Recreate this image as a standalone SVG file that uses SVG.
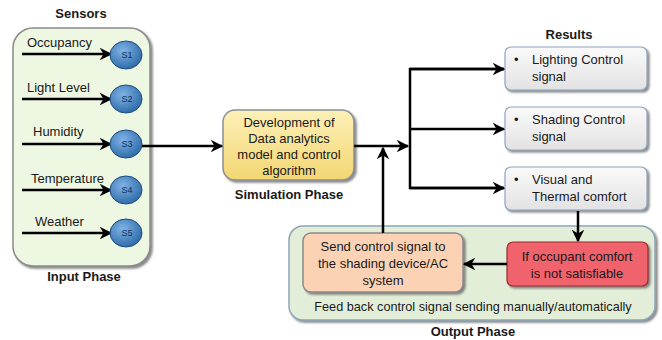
<svg xmlns="http://www.w3.org/2000/svg" width="662" height="340" viewBox="0 0 662 340">
<style>
text{font-family:"Liberation Sans",Arial,sans-serif;fill:#1a1a1a}
.lbl{font-size:13px}
.b{font-weight:bold;font-size:13px;text-anchor:middle}
.c{text-anchor:middle;font-size:13px}
.s{font-size:9px;text-anchor:middle;fill:#10305a}
.ln{stroke:#000;stroke-width:2.5;fill:none}
.arr{marker-end:url(#ah)}
</style>
<defs>
<marker id="ah" viewBox="0 0 10 10" refX="9" refY="5" markerWidth="5" markerHeight="5" orient="auto" markerUnits="strokeWidth">
<path d="M0,0 L10,5 L0,10 L3,5 Z" fill="#000"/>
</marker>
<radialGradient id="gs" cx="40%" cy="35%" r="70%">
<stop offset="0" stop-color="#7fb3e6"/><stop offset="1" stop-color="#2b68a6"/>
</radialGradient>
<linearGradient id="gy" x1="0" y1="0" x2="0" y2="1">
<stop offset="0" stop-color="#fdf0b8"/><stop offset="1" stop-color="#f3d672"/>
</linearGradient>
<linearGradient id="gg" x1="0" y1="0" x2="0" y2="1">
<stop offset="0" stop-color="#fafafa"/><stop offset="1" stop-color="#e2e2e2"/>
</linearGradient>
<filter id="sh" x="-10%" y="-10%" width="125%" height="130%">
<feDropShadow dx="2" dy="2" stdDeviation="1.2" flood-color="#555" flood-opacity="0.7"/>
</filter>
</defs>

<g id="input-phase">
<text class="b" x="81" y="18">Sensors</text>
<rect x="13" y="28" width="137" height="238" rx="20" fill="#eef7e2" stroke="#8a8a8a" stroke-width="1.5" filter="url(#sh)"/>
<text class="b" x="84" y="281">Input Phase</text>
</g>

<g id="sensor-s1">
<text class="lbl" x="27" y="47">Occupancy</text>
<line class="ln arr" x1="22" y1="54" x2="111" y2="54"/>
<ellipse cx="126" cy="55" rx="16" ry="14" fill="url(#gs)" stroke="#1f4e7e" stroke-width="1"/>
<text class="s" x="127" y="58">S1</text>
</g>
<g id="sensor-s2">
<text class="lbl" x="27" y="92">Light Level</text>
<line class="ln arr" x1="22" y1="99" x2="111" y2="99"/>
<ellipse cx="126" cy="99" rx="16" ry="14" fill="url(#gs)" stroke="#1f4e7e" stroke-width="1"/>
<text class="s" x="127" y="102">S2</text>
</g>
<g id="sensor-s3">
<text class="lbl" x="33" y="136">Humidity</text>
<line class="ln arr" x1="22" y1="144" x2="111" y2="144"/>
<ellipse cx="126" cy="144" rx="16" ry="14" fill="url(#gs)" stroke="#1f4e7e" stroke-width="1"/>
<text class="s" x="127" y="147">S3</text>
</g>
<g id="sensor-s4">
<text class="lbl" x="31" y="183">Temperature</text>
<line class="ln arr" x1="22" y1="190" x2="111" y2="190"/>
<ellipse cx="126" cy="190" rx="16" ry="14" fill="url(#gs)" stroke="#1f4e7e" stroke-width="1"/>
<text class="s" x="127" y="193">S4</text>
</g>
<g id="sensor-s5">
<text class="lbl" x="35" y="226">Weather</text>
<line class="ln arr" x1="22" y1="233" x2="111" y2="233"/>
<ellipse cx="126" cy="233" rx="16" ry="14" fill="url(#gs)" stroke="#1f4e7e" stroke-width="1"/>
<text class="s" x="127" y="236">S5</text>
</g>

<g id="simulation">
<rect x="223" y="110" width="131" height="70" rx="12" fill="url(#gy)" stroke="#8a8f99" stroke-width="1.5" filter="url(#sh)"/>
<text class="c" x="289" y="127">Development of</text>
<text class="c" x="289" y="143">Data analytics</text>
<text class="c" x="289" y="159">model and control</text>
<text class="c" x="289" y="175">algorithm</text>
<text class="b" x="289" y="199">Simulation Phase</text>
</g>

<g id="results">
<text class="b" x="569" y="39">Results</text>
</g>
<g id="result-lighting">
<rect x="505" y="47" width="142" height="43" rx="6" fill="url(#gg)" stroke="#8fa6c0" stroke-width="1.2" filter="url(#sh)"/>
<text class="lbl" x="514" y="64">•</text>
<text class="lbl" x="532" y="64">Lighting Control</text>
<text class="lbl" x="532" y="81">signal</text>
</g>
<g id="result-shading">
<rect x="505" y="107" width="142" height="43" rx="6" fill="url(#gg)" stroke="#8fa6c0" stroke-width="1.2" filter="url(#sh)"/>
<text class="lbl" x="514" y="124">•</text>
<text class="lbl" x="532" y="124">Shading Control</text>
<text class="lbl" x="532" y="141">signal</text>
</g>
<g id="result-comfort">
<rect x="505" y="167" width="142" height="43" rx="6" fill="url(#gg)" stroke="#8fa6c0" stroke-width="1.2" filter="url(#sh)"/>
<text class="lbl" x="514" y="184">•</text>
<text class="lbl" x="532" y="184">Visual and</text>
<text class="lbl" x="532" y="201">Thermal comfort</text>
</g>

<g id="output-phase">
<rect x="289" y="226" width="366" height="94" rx="14" fill="#e3eed8" stroke="#8fa6b8" stroke-width="1.5" filter="url(#sh)"/>
<text x="473" y="311" style="font-size:12.7px;text-anchor:middle">Feed back control signal sending manually/automatically</text>
<text class="b" x="473" y="336">Output Phase</text>
</g>
<g id="send-signal">
<rect x="303" y="233" width="160" height="59" rx="8" fill="#fbd3b4" stroke="#8a8a8a" stroke-width="1.5" filter="url(#sh)"/>
<text class="c" x="383" y="251">Send control signal to</text>
<text class="c" x="383" y="268">the shading device/AC</text>
<text class="c" x="383" y="285">system</text>
</g>
<g id="not-satisfiable">
<rect x="507" y="242" width="141" height="44" rx="6" fill="#f0626c" stroke="#9b2a30" stroke-width="1.2" filter="url(#sh)"/>
<text class="c" x="577" y="261">If occupant comfort</text>
<text class="c" x="577" y="278">is not satisfiable</text>
</g>

<g id="connectors">
<line class="ln arr" x1="142" y1="146" x2="222" y2="146"/>
<line class="ln arr" x1="354" y1="146" x2="408" y2="146"/>
<path class="ln" d="M504,69 H410 V188 H504"/>
<line class="ln arr" x1="410" y1="69" x2="504" y2="69"/>
<line class="ln arr" x1="410" y1="129" x2="504" y2="129"/>
<line class="ln arr" x1="410" y1="188" x2="504" y2="188"/>
<line class="ln arr" x1="383" y1="233" x2="383" y2="148"/>
<line class="ln arr" x1="578" y1="211" x2="578" y2="241"/>
<line class="ln arr" x1="507" y1="264" x2="464" y2="264"/>
</g>
</svg>
